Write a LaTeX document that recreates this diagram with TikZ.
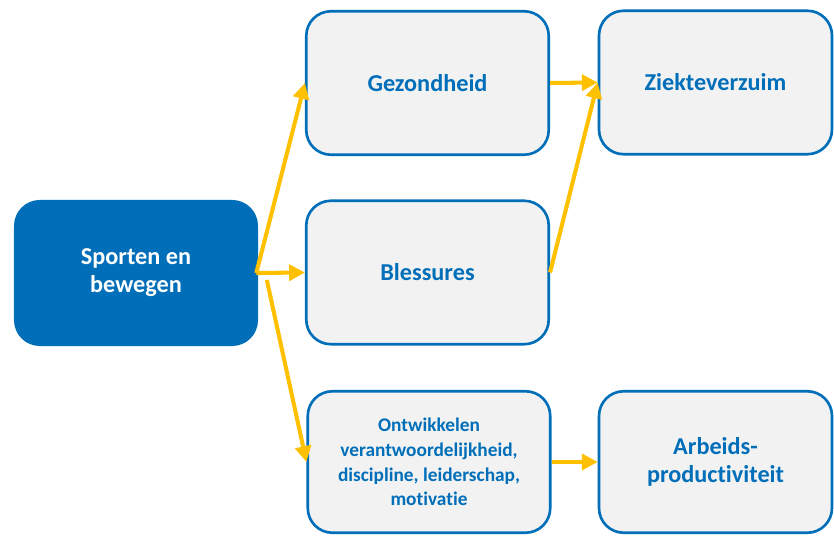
\documentclass[tikz,border=0pt]{standalone}
\usepackage{fontspec}
\setmainfont{Carlito}[Ligatures={NoCommon,NoRequired,NoContextual}]
\usetikzlibrary{arrows.meta}
\definecolor{boxblue}{RGB}{0,110,185}
\definecolor{boxgray}{RGB}{242,242,242}
\definecolor{arrowgold}{RGB}{255,192,0}
\tikzset{
  box/.style={draw=boxblue, fill=boxgray, line width=1.5pt, rounded corners=14pt,
              minimum width=4.85cm, minimum height=2.87cm,
              align=center, font=\fontsize{13.8}{16}\selectfont\bfseries, text=boxblue},
  startbox/.style={box, fill=boxblue, draw=boxblue, text=white},
  link/.style={-{Triangle[length=9pt,width=9pt]}, draw=arrowgold, line width=2.3pt},
}

\begin{document}
\begin{tikzpicture}[x=0.02cm, y=-0.02cm]
\useasboundingbox (0,0) rectangle (834,536);

%% source
\node[startbox, minimum width=4.83cm] (sport) at (136,273) {Sporten en\\bewegen};

%% middle column
\node[box] (gezond) at (427.5,83) {Gezondheid};
\node[box] (blessure) at (427.5,272.5) {Blessures};
\node[box, minimum height=2.83cm, font=\fontsize{11}{14}\selectfont\bfseries] (ontw) at (429,462)
  {Ontwikkelen\\verantwoordelijkheid,\\discipline, leiderschap,\\motivatie};

%% outcomes
\node[box, minimum width=4.66cm] (ziekte) at (715.5,82.5) {Ziekteverzuim};
\node[box, minimum width=4.66cm, minimum height=2.83cm] (arbeid) at (715.5,462) {Arbeids-\\productiviteit};

%% arrows
\draw[link] ([xshift=-1pt]sport.east) -- (gezond.west);
\draw[link] ([xshift=-1pt]sport.east) -- (blessure.west);
\draw[link] ([xshift=5pt,yshift=-4pt]sport.east) -- (ontw.west);
\draw[link] (gezond.east) -- (ziekte.west);
\draw[link] (blessure.east) -- (ziekte.west);
\draw[link] (ontw.east) -- (arbeid.west);

\end{tikzpicture}
\end{document}
